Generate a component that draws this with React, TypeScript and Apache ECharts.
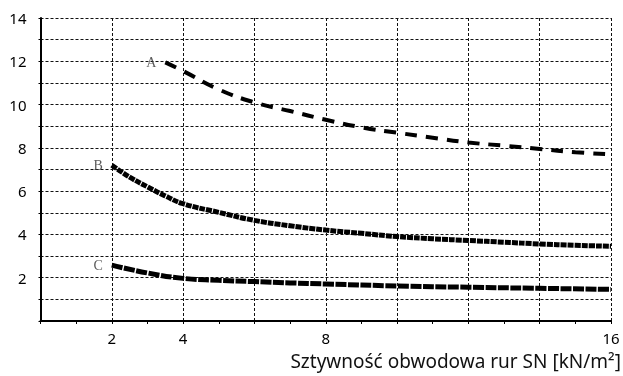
import React, { useEffect, useRef } from "react";
import * as echarts from "echarts";

const curveAX = [3.5, 4, 5, 6, 7, 8, 9, 10, 11, 12, 13, 14, 15, 16];
const curveAY = [11.95, 11.55, 10.7, 10.1, 9.7, 9.3, 8.95, 8.7, 8.47, 8.25, 8.1, 7.95, 7.8, 7.7];

const curveBX = [2, 2.5, 3, 3.5, 4, 5, 6, 7, 8, 9, 10, 11, 12, 13, 14, 15, 16];
const curveBY = [7.2, 6.65, 6.2, 5.78, 5.42, 5.02, 4.65, 4.4, 4.2, 4.05, 3.9, 3.8, 3.72, 3.64, 3.56, 3.5, 3.45];

const curveCX = [2, 3, 4, 5, 6, 7, 8, 10, 12, 14, 16];
const curveCY = [2.58, 2.22, 1.97, 1.88, 1.82, 1.76, 1.71, 1.62, 1.56, 1.51, 1.46];

const curveNames = ["A", "B", "C"];
const xTickLabels = [2, 4, 8, 16];
const xAxisTitle = "Sztywność obwodowa rur SN [kN/m²]";

const pairs = (xs: number[], ys: number[]) => xs.map((x, i) => [x, ys[i]]);

export default function App() {
  const ref = useRef<HTMLDivElement>(null);
  useEffect(() => {
    if (!ref.current) return;
    const chart = echarts.init(ref.current, null, { renderer: "svg" });
    const gridStyle = { color: "#111", width: 1, type: [3, 2] as number[] };
    const labelPoints = [
      [curveAX[0], curveAY[0], curveNames[0]],
      [curveBX[0], curveBY[0], curveNames[1]],
      [curveCX[0], curveCY[0], curveNames[2]],
    ];
    chart.setOption({
      animation: false,
      grid: { left: 40.5, right: 12, top: 18, bottom: 55, containLabel: false },
      xAxis: {
        type: "value",
        min: 0,
        max: 16,
        interval: 2,
        axisLine: { show: true, lineStyle: { color: "#000", width: 2 } },
        axisTick: { show: true, length: 3, inside: false, lineStyle: { color: "#000" } },
        minorTick: { show: true, splitNumber: 2, length: 3, lineStyle: { color: "#000" } },
        splitLine: { show: true, lineStyle: gridStyle },
        axisLabel: {
          color: "#000",
          fontFamily: "Noto Sans",
          fontSize: 15,
          margin: 9,
          formatter: (v: number) => (xTickLabels.includes(v) ? String(v) : ""),
        },
      },
      yAxis: {
        type: "value",
        min: 0,
        max: 14,
        interval: 1,
        axisLine: { show: true, lineStyle: { color: "#000", width: 2 } },
        axisTick: { show: true, length: 2, lineStyle: { color: "#000" } },
        splitLine: { show: true, lineStyle: gridStyle },
        axisLabel: {
          color: "#000",
          fontFamily: "Noto Sans",
          fontSize: 15,
          margin: 14,
          formatter: (v: number) => (v > 0 && v % 2 === 0 ? String(v) : ""),
        },
      },
      graphic: [
        {
          type: "text",
          x: 621,
          y: 361,
          style: {
            text: xAxisTitle,
            fontFamily: "Noto Sans",
            fontSize: 19,
            fill: "#111",
            textAlign: "right",
            textVerticalAlign: "middle",
          },
        },
      ],
      series: [
        {
          type: "line",
          data: pairs(curveAX, curveAY),
          smooth: true,
          showSymbol: false,
          lineStyle: { color: "#000", width: 4, type: [12, 9], cap: "butt" },
        },
        {
          type: "line",
          data: pairs(curveBX, curveBY),
          smooth: true,
          showSymbol: false,
          lineStyle: { color: "#000", width: 5, type: [6, 1], cap: "butt" },
        },
        {
          type: "line",
          data: pairs(curveCX, curveCY),
          smooth: true,
          showSymbol: false,
          lineStyle: { color: "#000", width: 5, type: [11, 1.5], cap: "butt" },
        },
        {
          type: "scatter",
          data: labelPoints,
          symbolSize: 0,
          label: {
            show: true,
            position: "left",
            distance: 9,
            formatter: (p: any) => p.value[2],
            fontFamily: "Liberation Serif",
            fontSize: 14,
            color: "#333",
          },
        },
      ],
    });
    return () => chart.dispose();
  }, []);
  return (
    <div
      ref={ref}
      style={{ position: "fixed", left: 0, top: 0, width: 623, height: 376 }}
    />
  );
}
